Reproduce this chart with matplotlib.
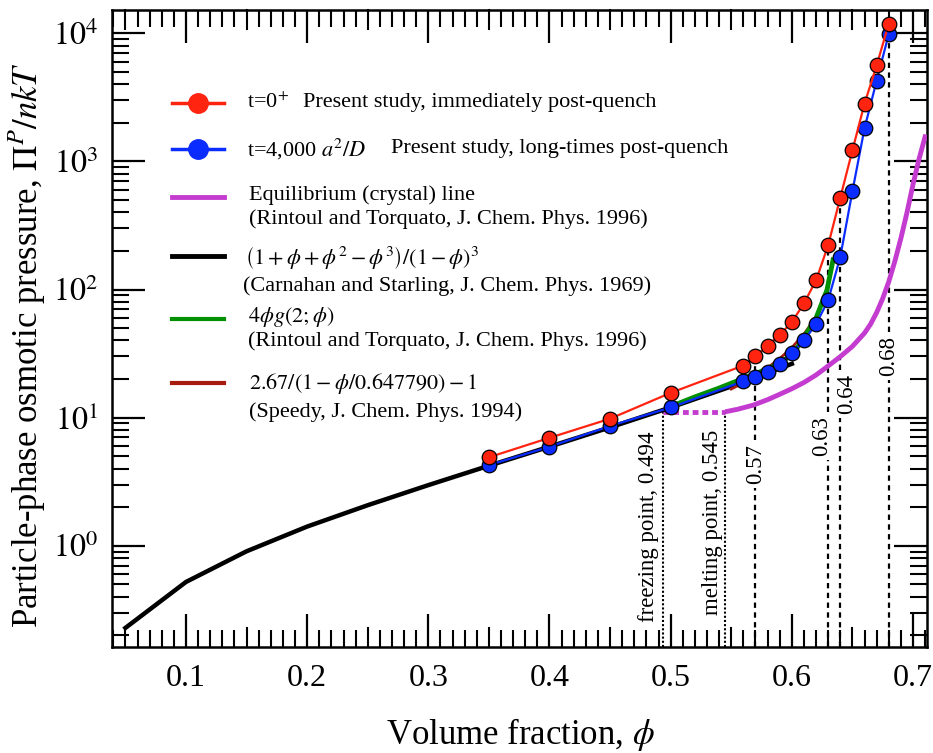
import matplotlib
matplotlib.use('Agg')
import matplotlib.pyplot as plt
from matplotlib.lines import Line2D
from matplotlib.ticker import FixedLocator, LogLocator, NullFormatter, FuncFormatter
import numpy as np

plt.rcParams['font.family'] = ['Liberation Serif', 'DejaVu Serif']
plt.rcParams['mathtext.fontset'] = 'stix'

# ---------------- data ----------------
phi_cs = [0.05, 0.10, 0.15, 0.20, 0.25, 0.30, 0.35, 0.40, 0.45, 0.50, 0.55, 0.60]
p_cs = [0.228, 0.521, 0.904, 1.41, 2.07, 2.97, 4.21, 5.93, 8.39, 12.0, 17.5, 26.3]

phi_data = [0.35, 0.40, 0.45, 0.50, 0.56, 0.57, 0.58, 0.59, 0.60, 0.61, 0.62,
            0.63, 0.64, 0.65, 0.66, 0.67, 0.68]
p_t0 = [4.9, 6.95, 9.8, 15.6, 25.5, 30.0, 36.5, 44.2, 55.6, 78, 118,
        222, 522, 1220, 2830, 5610, 11900]
p_t4000 = [4.26, 5.92, 8.6, 12.0, 19.2, 20.7, 22.7, 26.2, 31.9, 40.0, 53.6,
           82.5, 180, 585, 1815, 4270, 9860]

phi_green = [0.50, 0.52, 0.54, 0.56, 0.58, 0.59, 0.60, 0.607, 0.62, 0.629, 0.634]
p_green = [12.2, 14.5, 17.0, 20.2, 24.0, 26.7, 31.0, 38.0, 60.0, 99.0, 170.0]

phi_speedy = [0.55, 0.56, 0.57, 0.58, 0.59, 0.60, 0.61, 0.62]
p_speedy = [16.7, 18.7, 21.2, 24.5, 28.9, 35.2, 44.8, 61.2]

phi_eq_dot = [0.494, 0.545]
p_eq_dot = [11.1, 11.1]
phi_eq = [0.545, 0.555, 0.568, 0.58, 0.59, 0.60, 0.61, 0.62, 0.629, 0.64, 0.65,
          0.66, 0.665, 0.67, 0.675, 0.68, 0.685, 0.69, 0.695, 0.70, 0.705, 0.7105]
p_eq = [11.1, 11.6, 12.5, 13.8, 15.2, 16.8, 18.8, 21.5, 24.9, 29.9, 36.0,
        45.7, 53.7, 66.1, 85.1, 115, 166, 251, 398, 661, 1047, 1622]

vline_x = [0.494, 0.545, 0.57, 0.63, 0.64, 0.68]
vline_top = [11.1, 11.1, 30.0, 222, 522, 9860]
vline_style = ['dot', 'dot', 'dash', 'dash', 'dash', 'dash']

vlabel_text = ['freezing point, 0.494', 'melting point, 0.545', '0.57', '0.63', '0.64', '0.68']
vlabel_x = [0.4813, 0.5349, 0.5703, 0.6248, 0.6455, 0.68]
vlabel_y = [1.41, 1.52, 4.34, 7.18, 15.3, 30.3]

xticks = [0.1, 0.2, 0.3, 0.4, 0.5, 0.6, 0.7]
xtick_labels = ['0.1', '0.2', '0.3', '0.4', '0.5', '0.6', '0.7']

# ---------------- colours ----------------
RED = '#ff2410'
BLUE = '#0a2cff'
MAG = '#c43ccf'
GREEN = '#009000'
BROWN = '#a81c10'

W, H = 933, 753
fig = plt.figure(figsize=(W / 100, H / 100), dpi=100)
L, R, T, B = 111.7, 926.7, 9.5, 647.0
ax = fig.add_axes([L / W, 1 - B / H, (R - L) / W, (B - T) / H])
ax.set_yscale('log')
ax.set_xlim(0.0387, 0.7113)
ymin, ymax = 10 ** -0.791, 10 ** 4.186
ax.set_ylim(ymin, ymax)

# vertical reference lines (dashed ones are interrupted where their label sits)
GAP = 10 ** 0.19
label_at = {0.57: 4.34, 0.63: 7.18, 0.64: 15.3, 0.68: 30.3}
for x, top, st in zip(vline_x, vline_top, vline_style):
    if st == 'dot':
        ax.plot([x, x], [ymin, top], color='k', lw=1.5, ls=(0, (1, 1)), zorder=1)
    else:
        yc = label_at[x]
        for y0, y1 in [(ymin, yc / GAP), (yc * GAP, top)]:
            ax.plot([x, x], [y0, y1], color='k', lw=1.6, ls=(0, (2.4, 2.0)), zorder=1)

for t, x, y in zip(vlabel_text, vlabel_x, vlabel_y):
    ax.text(x, y, t, rotation=90, ha='center', va='center', fontsize=16.5, zorder=2)

# curves
ax.plot(phi_eq_dot, p_eq_dot, color=MAG, lw=3.5, ls=(0, (1.2, 0.8)), zorder=3)
ax.plot(phi_eq, p_eq, color=MAG, lw=3.5, zorder=3, solid_capstyle='butt')
ax.plot(phi_cs, p_cs, color='k', lw=3.2, zorder=4)
ax.plot(phi_speedy, p_speedy, color=BROWN, lw=2.0, zorder=4.5)
ax.plot(phi_green, p_green, color=GREEN, lw=3.5, zorder=5)
ax.plot(phi_data, p_t4000, color=BLUE, lw=1.6, marker='o', ms=10.5,
        mfc=BLUE, mec='k', mew=0.9, zorder=6)
ax.plot(phi_data, p_t0, color=RED, lw=1.6, marker='o', ms=10.5,
        mfc=RED, mec='k', mew=0.9, zorder=7)

# axes styling
for sp in ax.spines.values():
    sp.set_linewidth(1.8)
ax.xaxis.set_major_locator(FixedLocator(xticks))
ax.set_xticklabels(xtick_labels)
minor_x = [round(0.04 + 0.01 * i, 2) for i in range(68)]
minor_x = [v for v in minor_x if round(v * 100) % 5 != 0]
ax.xaxis.set_minor_locator(FixedLocator(minor_x))
ax.yaxis.set_major_locator(LogLocator(base=10, numticks=20))
ax.yaxis.set_minor_locator(LogLocator(base=10, subs=np.arange(2, 10), numticks=20))
ax.yaxis.set_minor_formatter(NullFormatter())
ax.yaxis.set_major_formatter(FuncFormatter(lambda v, p: r'$10^{%d}$' % int(round(np.log10(v)))))
ax.tick_params(which='major', direction='in', length=24, width=1.6, top=True, right=True,
               labelsize=23)
ax.tick_params(which='minor', direction='in', length=12, width=1.5, top=True, right=True)
ax.tick_params(axis='x', which='major', pad=12)
ax.tick_params(axis='y', which='major', pad=10)

# medium ticks at odd multiples of 0.05
ph = B - T
for xm in [0.05, 0.15, 0.25, 0.35, 0.45, 0.55, 0.65]:
    ax.plot([xm, xm], [0, 19 / ph], color='k', lw=1.5, transform=ax.get_xaxis_transform(),
            clip_on=False, zorder=10)
    ax.plot([xm, xm], [1, 1 - 19 / ph], color='k', lw=1.5, transform=ax.get_xaxis_transform(),
            clip_on=False, zorder=10)

ax.set_xlabel(r'Volume fraction, $\phi$', fontsize=25)
ax.set_ylabel(r'Particle-phase osmotic pressure, $\Pi^P/nkT$', fontsize=25)
ax.xaxis.set_label_coords(0.501, -0.138)
ax.xaxis.label.set_va('center')
ax.yaxis.set_label_coords(-0.104, 0.474)
ax.yaxis.label.set_va('center')

# ---------------- manual legend ----------------
def fp(x, y):
    return x / W, 1 - y / H

def handle(y, color, lw, marker=False):
    (x0, yy), (x1, _) = fp(172, y), fp(224, y)
    fig.add_artist(Line2D([x0, x1], [yy, yy], color=color, lw=lw, transform=fig.transFigure))
    if marker:
        xm = (x0 + x1) / 2
        fig.add_artist(Line2D([xm], [yy], color=color, marker='o', ms=14, mec=color,
                              transform=fig.transFigure))

def txt(x, y, s, **kw):
    fig.text(*fp(x, y), s, ha='left', va='center', fontsize=16, **kw)

handle(103, RED, 2.5, True)
txt(247, 103, r't=0$^{+}$')
txt(303, 103, 'Present study, immediately post-quench')

handle(149, BLUE, 2.5, True)
txt(247, 149, r't=4,000 $a^{2}/D$')
txt(391, 149, 'Present study, long-times post-quench')

handle(197, MAG, 3.5)
txt(249, 195, 'Equilibrium (crystal) line')
txt(249, 219, '(Rintoul and Torquato, J. Chem. Phys. 1996)')

handle(256, 'k', 3.5)
txt(245, 258, r'$\left(1+\phi+\phi^2-\phi^3\right)/\left(1-\phi\right)^3$')
txt(243, 286, '(Carnahan and Starling, J. Chem. Phys. 1969)')

handle(319, GREEN, 3.0)
txt(248, 317, r'$4\phi g(2;\phi)$')
txt(248, 341, '(Rintoul and Torquato, J. Chem. Phys. 1996)')

handle(383, BROWN, 3.0)
txt(249, 383, r'$2.67/\left(1-\phi/0.647790\right)-1$')
txt(249, 412, '(Speedy, J. Chem. Phys. 1994)')

fig.savefig('out.png', dpi=100)
